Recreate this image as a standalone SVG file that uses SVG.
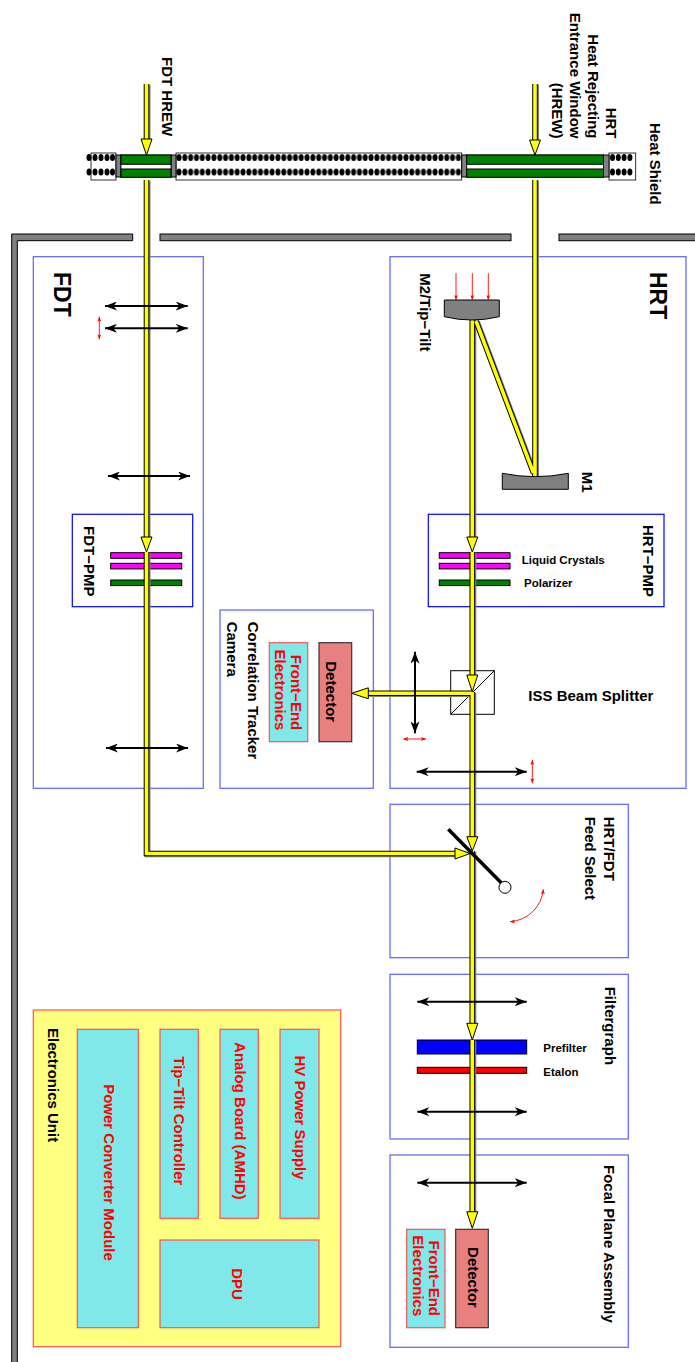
<svg xmlns="http://www.w3.org/2000/svg" width="695" height="1362" viewBox="0 0 695 1362">
<style>
text{font-family:"Liberation Sans",Arial,sans-serif;font-weight:bold;font-size:15px;fill:#000}
.big{font-size:23px}
.sm{font-size:11.5px}
.red{fill:#ff0000}
.mid{text-anchor:middle}
.end{text-anchor:end}
.box{fill:none;stroke:#6060ff;stroke-width:1.2}
.pbox{fill:none;stroke:#0000ff;stroke-width:1.2}
.wall{fill:#808080;stroke:#000;stroke-width:1}
.lens{stroke:#000;stroke-width:2;fill:none;marker-start:url(#lh);marker-end:url(#lh)}
.rda{stroke:#ff0000;stroke-width:0.9;fill:none;marker-start:url(#rh);marker-end:url(#rh)}
.rsa{stroke:#ff0000;stroke-width:0.9;fill:none;marker-end:url(#rh)}
.bs{stroke:#808080;stroke-width:6;fill:none}
.bo{stroke:#000;stroke-width:5.6;fill:none}
.by{stroke:#ffff00;stroke-width:3.6;fill:none}
.ah{fill:#ffff00;stroke:#000;stroke-width:1}
.cyan{fill:#80e8e8;stroke:#ff5050;stroke-width:1.2}
.det{fill:#e88080;stroke:#333;stroke-width:1.2}
.plate{stroke:#000;stroke-width:1}
.gbar{fill:#808080;stroke:#000;stroke-width:1}
.green{fill:#008000;stroke:#000;stroke-width:1}
.dbox{fill:#fff;stroke:#000;stroke-width:0.8}
.dot{fill:#000}
</style>
<defs>
<marker id="lh" viewBox="0 0 12 9" refX="12" refY="4.5" markerWidth="12" markerHeight="9" markerUnits="userSpaceOnUse" orient="auto-start-reverse"><path d="M12,4.5 L0,0 L3.5,4.5 L0,9 z" fill="#000"/></marker>
<marker id="rh" viewBox="0 0 5 4" refX="5" refY="2" markerWidth="5" markerHeight="4" markerUnits="userSpaceOnUse" orient="auto-start-reverse"><path d="M5,2 L0,0 L1.2,2 L0,4 z" fill="#ff0000"/></marker>
<pattern id="dots" x="176.1" y="150.25" width="5.82" height="14.5" patternUnits="userSpaceOnUse"><ellipse cx="2.91" cy="7.25" rx="2.5" ry="3.5" fill="#000"/></pattern>
<path id="beams" d="M146.5,84 V139 M146.5,180 V537 M146.5,552 V853.5 H455 M535,84 V140 M535,180 V476 M533.5,473 L476,321 M472.3,318 V537 M472.3,552 V675 M472.3,692 V836.7 M472.3,851 V1023 M472.3,1040 V1212 M472,693.3 H368.3"/>
</defs>

<g id="wall">
<path class="wall" d="M11.7,1363 V234 H132.7 V240.7 H17.3 V1363 Z"/>
<rect class="wall" x="160" y="234" width="351" height="6.7"/>
<rect class="wall" x="559" y="234" width="140" height="6.7"/>
</g>

<g id="heat-shield">
<rect class="dbox" x="91" y="153" width="25" height="27"/>
<rect class="dbox" x="176" y="153" width="285.7" height="27"/>
<rect class="dbox" x="609" y="153" width="26.7" height="27"/>
<rect x="176" y="153" width="285.7" height="27" fill="url(#dots)"/>
<g class="dot">
<ellipse cx="89" cy="157.5" rx="2.5" ry="3.5"/><ellipse cx="95" cy="157.5" rx="2.5" ry="3.5"/><ellipse cx="101" cy="157.5" rx="2.5" ry="3.5"/><ellipse cx="107" cy="157.5" rx="2.5" ry="3.5"/><ellipse cx="112.5" cy="157.5" rx="2.5" ry="3.5"/>
<ellipse cx="89" cy="172" rx="2.5" ry="3.5"/><ellipse cx="95" cy="172" rx="2.5" ry="3.5"/><ellipse cx="101" cy="172" rx="2.5" ry="3.5"/><ellipse cx="107" cy="172" rx="2.5" ry="3.5"/><ellipse cx="112.5" cy="172" rx="2.5" ry="3.5"/>
<ellipse cx="612.5" cy="157.5" rx="2.5" ry="3.5"/><ellipse cx="618.3" cy="157.5" rx="2.5" ry="3.5"/><ellipse cx="624.1" cy="157.5" rx="2.5" ry="3.5"/><ellipse cx="629.9" cy="157.5" rx="2.5" ry="3.5"/>
<ellipse cx="612.5" cy="172" rx="2.5" ry="3.5"/><ellipse cx="618.3" cy="172" rx="2.5" ry="3.5"/><ellipse cx="624.1" cy="172" rx="2.5" ry="3.5"/><ellipse cx="629.9" cy="172" rx="2.5" ry="3.5"/>
</g>
<rect class="gbar" x="116" y="155" width="5" height="22"/>
<rect class="gbar" x="171" y="155" width="5" height="22"/>
<rect class="gbar" x="461.7" y="155" width="5" height="22"/>
<rect class="gbar" x="603.5" y="155" width="5.5" height="22"/>
<rect x="121" y="155" width="50" height="22" fill="#fff" stroke="#000" stroke-width="0.8"/>
<rect class="green" x="121" y="155" width="50" height="9.3"/>
<rect class="green" x="121" y="169" width="50" height="8.3"/>
<rect x="466.7" y="155" width="136.8" height="22" fill="#fff" stroke="#000" stroke-width="0.8"/>
<rect class="green" x="466.7" y="155" width="136.8" height="9.3"/>
<rect class="green" x="466.7" y="169" width="136.8" height="8.3"/>
<text transform="translate(649.5,123) rotate(90)">Heat Shield</text>
</g>

<g id="fdt">
<rect class="box" x="33.3" y="256.7" width="170" height="531.6"/>
<text class="big" transform="translate(53.5,272) rotate(90)">FDT</text>
</g>
<g id="fdt-pmp">
<rect class="pbox" x="72.3" y="514.3" width="120.4" height="92.4"/>
<text transform="translate(84,526) rotate(90)">FDT−PMP</text>
<rect class="plate" x="110.7" y="552.7" width="71" height="5.6" fill="#ff00ff"/>
<rect class="plate" x="110.7" y="563.3" width="71" height="5.6" fill="#ff00ff"/>
<rect class="plate" x="110.7" y="580" width="71" height="5.6" fill="#008000"/>
</g>

<g id="hrt">
<rect class="box" x="390" y="256.7" width="296" height="531.6"/>
<text class="big" transform="translate(650,272) rotate(90)">HRT</text>
</g>
<g id="hrt-pmp">
<rect class="pbox" x="428.3" y="514.3" width="235.7" height="92.4"/>
<text transform="translate(642.6,525) rotate(90)">HRT−PMP</text>
<rect class="plate" x="439.3" y="552.7" width="70.7" height="5.6" fill="#ff00ff"/>
<rect class="plate" x="439.3" y="563.3" width="70.7" height="5.6" fill="#ff00ff"/>
<rect class="plate" x="439.3" y="580" width="70.7" height="5.6" fill="#008000"/>
<text class="sm" x="521.7" y="563.5">Liquid Crystals</text>
<text class="sm" x="524" y="586.8">Polarizer</text>
</g>

<g id="ct-camera">
<rect class="box" x="220" y="610" width="153.3" height="178.3"/>
<text transform="translate(247.6,621.7) rotate(90)">Correlation Tracker</text>
<text transform="translate(226.5,621.7) rotate(90)">Camera</text>
<rect class="det" x="319" y="642.7" width="32.7" height="99"/>
<text class="mid" transform="translate(326,691.7) rotate(90)">Detector</text>
<rect class="cyan" x="269.3" y="642.7" width="38.4" height="99"/>
<text class="mid red" transform="translate(291,692.5) rotate(90)">Front−End</text>
<text class="mid red" transform="translate(275,690) rotate(90)">Electronics</text>
</g>

<g id="feed-select">
<rect class="box" x="390" y="804.3" width="238.3" height="153.4"/>
<text transform="translate(603.8,816.7) rotate(90)">HRT/FDT</text>
<text transform="translate(584.5,816.7) rotate(90)">Feed Select</text>
</g>

<g id="filtergraph">
<rect class="box" x="390" y="974.3" width="238.3" height="164.7"/>
<text transform="translate(604.5,986.7) rotate(90)">Filtergraph</text>
<rect class="plate" x="417.3" y="1040" width="109.4" height="14" fill="#0000ff"/>
<rect class="plate" x="417.3" y="1067.3" width="109.4" height="6" fill="#ff0000"/>
<text class="sm" x="543.3" y="1051.5">Prefilter</text>
<text class="sm" x="543.3" y="1075.5">Etalon</text>
</g>

<g id="fpa">
<rect class="box" x="390" y="1155" width="238.3" height="192.3"/>
<text transform="translate(604.3,1165) rotate(90)">Focal Plane Assembly</text>
<rect class="det" x="455.7" y="1229.3" width="32.6" height="98.4"/>
<text class="mid" transform="translate(467.6,1277.5) rotate(90)">Detector</text>
<rect class="cyan" x="406.7" y="1229.3" width="38.3" height="98.4"/>
<text class="mid red" transform="translate(429.3,1278.3) rotate(90)">Front−End</text>
<text class="mid red" transform="translate(412.6,1275.8) rotate(90)">Electronics</text>
</g>

<g id="electronics-unit">
<rect x="33.3" y="1010" width="307.4" height="336.7" fill="#ffff80" stroke="#ff5050" stroke-width="1.2"/>
<text transform="translate(47.6,1028) rotate(90)">Electronics Unit</text>
<rect class="cyan" x="77.3" y="1029.3" width="61" height="298.4"/>
<text class="mid red" transform="translate(104.3,1172.5) rotate(90)">Power Converter Module</text>
<rect class="cyan" x="160" y="1029.3" width="38.3" height="189"/>
<text class="mid red" transform="translate(174.3,1120.8) rotate(90)">Tip−Tilt Controller</text>
<rect class="cyan" x="220" y="1029.3" width="38.3" height="189"/>
<text class="mid red" transform="translate(235.3,1120.8) rotate(90)">Analog Board (AMHD)</text>
<rect class="cyan" x="280" y="1029.3" width="39" height="189"/>
<text class="mid red" transform="translate(295.3,1117.5) rotate(90)">HV Power Supply</text>
<rect class="cyan" x="160" y="1240" width="159" height="87.7"/>
<text class="mid red" transform="translate(232,1284) rotate(90)">DPU</text>
</g>

<g id="beam-splitter">
<rect x="450.7" y="670.7" width="43.6" height="43.6" fill="#fff" stroke="#000" stroke-width="1"/>
<line x1="450.7" y1="714.3" x2="494.3" y2="670.7" stroke="#000" stroke-width="1"/>
<text x="528.3" y="701.4">ISS Beam Splitter</text>
</g>

<g id="connectors">
<use href="#beams" class="bs" transform="translate(1,0.8)"/>
<use href="#beams" class="bo"/>
<use href="#beams" class="by"/>
<polygon class="ah" points="141,139 152,139 146.5,155"/>
<polygon class="ah" points="529.5,140 540.5,140 535,155"/>
<polygon class="ah" points="141,537 152,537 146.5,552"/>
<polygon class="ah" points="466.8,537 477.8,537 472.3,552"/>
<polygon class="ah" points="466.8,675 477.8,675 472.3,691.7"/>
<polygon class="ah" points="368.3,687.8 368.3,698.8 351.7,693.3"/>
<polygon class="ah" points="466.8,836.7 477.8,836.7 472.3,851"/>
<polygon class="ah" points="455,848 455,859 470,853.5"/>
<polygon class="ah" points="466.8,1023.3 477.8,1023.3 472.3,1040"/>
<polygon class="ah" points="466.8,1211.7 477.8,1211.7 472.3,1228.3"/>
<text transform="translate(161.5,57) rotate(90)">FDT HREW</text>
<text class="end" transform="translate(605.5,138.5) rotate(90)">HRT</text>
<text class="end" transform="translate(587.5,138.5) rotate(90)">Heat Rejecting</text>
<text class="end" transform="translate(569.5,138.5) rotate(90)">Entrance Window</text>
<text class="end" transform="translate(551.5,138.5) rotate(90)">(HREW)</text>
</g>

<g id="mirrors">
<path d="M444.3,300 H499.3 V316.7 Q471.8,323.3 444.3,316.7 Z" fill="#808080" stroke="#000" stroke-width="1"/>
<path d="M502.3,473.3 Q535.3,480 568.3,473.3 V489.3 H502.3 Z" fill="#808080" stroke="#000" stroke-width="1"/>
<line class="rsa" x1="456" y1="273.3" x2="456" y2="300"/>
<line class="rsa" x1="472.3" y1="273.3" x2="472.3" y2="300"/>
<line class="rsa" x1="488.3" y1="273.3" x2="488.3" y2="300"/>
<text transform="translate(419.5,273.3) rotate(90)">M2/Tip−Tilt</text>
<text transform="translate(582,471.7) rotate(90)">M1</text>
</g>

<g id="lenses">
<line class="lens" x1="105" y1="306" x2="187.7" y2="306"/>
<line class="lens" x1="105" y1="328.3" x2="187.7" y2="328.3"/>
<line class="rda" x1="99.3" y1="316.7" x2="99.3" y2="339.3"/>
<line class="lens" x1="108" y1="476" x2="190" y2="476"/>
<line class="lens" x1="106" y1="748" x2="188" y2="748"/>
<line class="lens" x1="415" y1="651.7" x2="415" y2="733.3"/>
<line class="rda" x1="403.3" y1="739" x2="426" y2="739"/>
<line class="lens" x1="416.7" y1="771.7" x2="526.7" y2="771.7"/>
<line class="rda" x1="532.3" y1="760" x2="532.3" y2="783.3"/>
<line class="lens" x1="417.3" y1="1001.7" x2="526.7" y2="1001.7"/>
<line class="lens" x1="417.3" y1="1111.7" x2="526.7" y2="1111.7"/>
<line class="lens" x1="417.3" y1="1182.7" x2="526.7" y2="1182.7"/>
</g>

<g id="feed-mirror">
<line x1="448.3" y1="829.3" x2="501.7" y2="883.3" stroke="#000" stroke-width="3.5"/>
<circle cx="505" cy="887.3" r="6" fill="#fff" stroke="#000" stroke-width="1"/>
<path class="rda" d="M510,921.7 A35.5,35.5 0 0 0 543.3,889.3"/>
</g>
</svg>
